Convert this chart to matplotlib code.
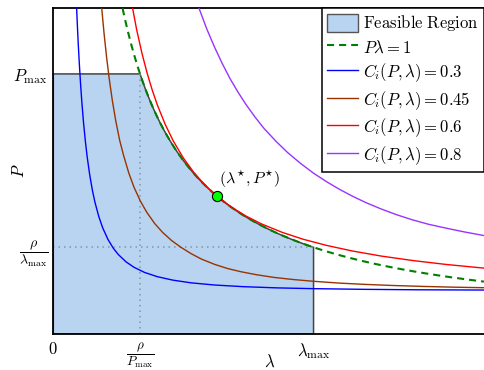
import numpy as np
import matplotlib
matplotlib.use("Agg")
import matplotlib.pyplot as plt
from matplotlib.patches import Patch
from matplotlib.lines import Line2D

plt.rcParams['mathtext.fontset'] = 'cm'
plt.rcParams['font.family'] = ['DejaVu Serif']

# ---- data ----
rho = 1.0
lam_max = 1.0
P_max = 3.0
lam_star, P_star = 0.628, 1.592

blue_lam = [0.088, 0.092, 0.096, 0.100, 0.105, 0.110, 0.116, 0.123, 0.130, 0.140,
            0.150, 0.160, 0.175, 0.190, 0.210, 0.230, 0.250, 0.280, 0.310, 0.350,
            0.400, 0.460, 0.530, 0.620, 0.730, 0.860, 1.000, 1.200, 1.400, 1.655]
blue_P = [3.880, 3.592, 3.340, 3.117, 2.873, 2.662, 2.444, 2.229, 2.047, 1.834,
          1.661, 1.520, 1.353, 1.223, 1.091, 0.992, 0.916, 0.831, 0.770, 0.711,
          0.661, 0.621, 0.590, 0.565, 0.546, 0.532, 0.523, 0.515, 0.510, 0.507]

brown_lam = [0.180, 0.187, 0.195, 0.205, 0.215, 0.227, 0.240, 0.255, 0.270, 0.290,
             0.310, 0.335, 0.360, 0.390, 0.420, 0.455, 0.490, 0.530, 0.570, 0.620,
             0.670, 0.720, 0.780, 0.850, 0.920, 1.000, 1.100, 1.200, 1.300, 1.420,
             1.540, 1.655]
brown_P = [3.985, 3.728, 3.469, 3.186, 2.942, 2.690, 2.459, 2.235, 2.061, 1.858,
           1.694, 1.531, 1.400, 1.273, 1.172, 1.077, 1.001, 0.926, 0.863, 0.803,
           0.755, 0.719, 0.684, 0.652, 0.629, 0.608, 0.587, 0.572, 0.560, 0.549,
           0.540, 0.534]

red_lam = [0.300, 0.320, 0.340, 0.360, 0.380, 0.400, 0.430, 0.460, 0.500, 0.540,
           0.580, 0.628, 0.680, 0.740, 0.800, 0.880, 0.960, 1.050, 1.150, 1.260,
           1.380, 1.510, 1.655]
red_P = [3.833, 3.515, 3.246, 3.015, 2.815, 2.640, 2.418, 2.232, 2.029, 1.863,
         1.727, 1.592, 1.473, 1.361, 1.270, 1.172, 1.093, 1.022, 0.957, 0.899,
         0.848, 0.802, 0.760]

purple_lam = [0.560, 0.590, 0.620, 0.650, 0.680, 0.710, 0.740, 0.775, 0.810, 0.855,
              0.900, 0.950, 1.000, 1.050, 1.100, 1.150, 1.200, 1.260, 1.320, 1.380,
              1.440, 1.500, 1.580, 1.656]
purple_P = [3.757, 3.517, 3.306, 3.115, 2.941, 2.789, 2.649, 2.503, 2.370, 2.225,
            2.094, 1.968, 1.855, 1.757, 1.668, 1.589, 1.517, 1.442, 1.375, 1.317,
            1.267, 1.227, 1.177, 1.135]

levels = ['0.3', '0.45', '0.6', '0.8']
curve_colors = ['#0000ff', '#993300', '#ff0000', '#9933ff']

x_ticks = [0, rho / P_max, lam_max]
x_ticklabels = [r'$0$', r'$\dfrac{\rho}{P_{\max}}$', r'$\lambda_{\max}$']
y_ticks = [rho / lam_max, P_max]
y_ticklabels = [r'$\dfrac{\rho}{\lambda_{\max}}$', r'$P_{\max}$']

xlim = (0, 1.655)
ylim = (0, 3.757)

# ---- figure ----
fig = plt.figure(figsize=(4.84, 3.70), dpi=100)
ax = fig.add_axes([53.3 / 484, 1 - 334 / 370, 1 - 53.3 / 484, (334 - 8.3) / 370])

fill_color = '#b9d4f0'
lam_curve = np.linspace(rho / P_max, lam_max, 200)
poly_x = np.concatenate([[0, 0], lam_curve, [lam_max]])
poly_y = np.concatenate([[0, P_max], rho / lam_curve, [0]])
ax.fill(poly_x, poly_y, facecolor=fill_color, edgecolor='#444444', lw=1.1, zorder=1)

ax.plot([0, lam_max], [rho / lam_max, rho / lam_max], color='#8895a5',
        ls=(0, (1, 2.6)), lw=1.1, zorder=2)
ax.plot([rho / P_max, rho / P_max], [0, P_max], color='#8895a5',
        ls=(0, (1, 2.6)), lw=1.1, zorder=2)

dash = (0, (3.4, 2.4))
lam_d = np.linspace(rho / ylim[1], xlim[1], 300)
ax.plot(lam_d, rho / lam_d, color='#008000', ls=dash, lw=1.5, zorder=3)

curves = [(blue_lam, blue_P), (brown_lam, brown_P), (red_lam, red_P), (purple_lam, purple_P)]
for (lx, py), c in zip(curves, curve_colors):
    ax.plot(lx, py, color=c, lw=1.0, zorder=4)

ax.plot([lam_star], [P_star], 'o', ms=7.3, mfc='#00ff00', mec='black', mew=0.8, zorder=6)
ax.annotate(r'$(\lambda^{\star}, P^{\star})$', (lam_star, P_star), xytext=(1.5, 4.5),
            textcoords='offset points', fontsize=11.5, ha='left', va='bottom')

ax.set_xlim(*xlim)
ax.set_ylim(*ylim)
ax.set_xticks(x_ticks)
ax.set_xticklabels(x_ticklabels, fontsize=12)
ax.set_yticks(y_ticks)
ax.set_yticklabels(y_ticklabels, fontsize=12)
ax.get_xticklabels()[1].set_fontsize(9.5)
ax.get_yticklabels()[0].set_fontsize(10)
ax.tick_params(axis='x', length=0, pad=5)
ax.tick_params(axis='y', length=0, pad=4)
ax.set_xlabel(r'$\lambda$', fontsize=12)
ax.set_ylabel(r'$P$', fontsize=12)
ax.xaxis.set_label_coords((270 - 53.3) / 430.7, -(362 - 334) / 325.7)
ax.yaxis.set_label_coords((19 - 53.3) / 430.7, 0.5)
ax.xaxis.label.set_va('center')
ax.yaxis.label.set_va('center')

for s in ['left', 'bottom', 'top']:
    ax.spines[s].set_linewidth(1.3)
ax.spines['right'].set_visible(False)

handles = [Patch(facecolor=fill_color, edgecolor='#555555', lw=1.0),
           Line2D([], [], color='#008000', ls=dash, lw=1.5)]
labels = [r'$\mathrm{Feasible\ Region}$', r'$P\lambda = 1$']
for lev, c in zip(levels, curve_colors):
    handles.append(Line2D([], [], color=c, lw=1.0))
    labels.append(r'$C_i(P,\lambda) = %s$' % lev)

leg = ax.legend(handles, labels, loc='upper right', bbox_to_anchor=(1.0, 1.0),
                borderaxespad=0, fancybox=False, framealpha=1, edgecolor='black',
                fontsize=12, handlelength=1.86, handleheight=1.25, labelspacing=0.29,
                handletextpad=0.3, borderpad=0.3)
leg.get_frame().set_linewidth(1.1)
leg.set_zorder(10)

fig.savefig('out.png', dpi=100)
